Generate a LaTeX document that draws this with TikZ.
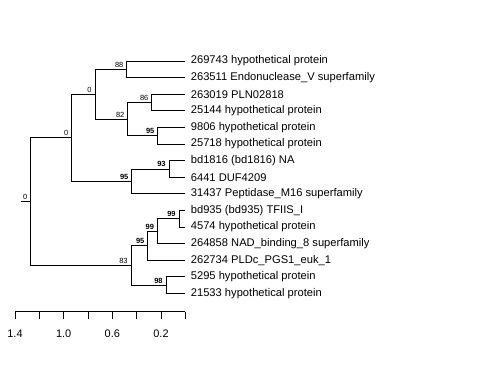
\documentclass[tikz,border=0pt]{standalone}
\usepackage{fontspec}
\setmainfont{Liberation Sans}
\usetikzlibrary{positioning}

\begin{document}
\begin{tikzpicture}[x=1bp,y=-1bp,line width=0.75bp,
                    leaf node/.style={anchor=west,inner xsep=5.5bp,inner ysep=0pt,font=\fontsize{11.2}{13}\selectfont},
                    boot/.style={anchor=south east,inner sep=0pt,xshift=-3bp,yshift=1.5bp,font=\fontsize{7.5}{9}\selectfont},
                    strong boot/.style={boot,font=\fontsize{7.5}{9}\selectfont\bfseries},
                    elbow/.style={to path={|- (\tikztotarget)}}]
  \useasboundingbox (0,0) rectangle (480,384);

  % leaves
  \node[leaf node] (l1)  at (185,61.0)  {269743 hypothetical protein};
  \node[leaf node] (l2)  at (185,77.6)  {263511 Endonuclease\_V superfamily};
  \node[leaf node] (l3)  at (185,94.2)  {263019 PLN02818};
  \node[leaf node] (l4)  at (185,110.8) {25144 hypothetical protein};
  \node[leaf node] (l5)  at (185,127.4) {9806 hypothetical protein};
  \node[leaf node] (l6)  at (185,144.0) {25718 hypothetical protein};
  \node[leaf node] (l7)  at (185,160.6) {bd1816 (bd1816) NA};
  \node[leaf node] (l8)  at (185,177.2) {6441 DUF4209};
  \node[leaf node] (l9)  at (185,193.8) {31437 Peptidase\_M16 superfamily};
  \node[leaf node] (l10) at (185,210.4) {bd935 (bd935) TFIIS\_I};
  \node[leaf node] (l11) at (185,227.0) {4574 hypothetical protein};
  \node[leaf node] (l12) at (185,243.6) {264858 NAD\_binding\_8 superfamily};
  \node[leaf node] (l13) at (185,260.2) {262734 PLDc\_PGS1\_euk\_1};
  \node[leaf node] (l14) at (185,276.8) {5295 hypothetical protein};
  \node[leaf node] (l15) at (185,293.4) {21533 hypothetical protein};

  % inner nodes
  \coordinate (r0)  at (20.7,201.6);
  \coordinate (r)   at (30.7,201.6);
  \coordinate (a)   at (71.7,137.8);
  \coordinate (b)   at (95.0,94.2);
  \coordinate (c88) at (126.7,69.3);
  \coordinate (c82) at (127.7,119.1);
  \coordinate (c86) at (151.7,102.5);
  \coordinate (c95) at (157.7,135.7);
  \coordinate (d95) at (131.7,181.35);
  \coordinate (d93) at (169.0,168.9);
  \coordinate (e83) at (131.0,265.4);
  \coordinate (e95) at (147.7,245.7);
  \coordinate (f99) at (157.3,231.15);
  \coordinate (g99) at (179.0,218.7);
  \coordinate (e98) at (166.0,285.1);

  \draw (r0) -- (r);
  \path[draw]
    (r)   edge [elbow] (a)
          edge [elbow] (e83)
    (a)   edge [elbow] (b)
          edge [elbow] (d95)
    (b)   edge [elbow] (c88)
          edge [elbow] (c82)
    (c88) edge [elbow] (l1)
          edge [elbow] (l2)
    (c82) edge [elbow] (c86)
          edge [elbow] (c95)
    (c86) edge [elbow] (l3)
          edge [elbow] (l4)
    (c95) edge [elbow] (l5)
          edge [elbow] (l6)
    (d95) edge [elbow] (d93)
          edge [elbow] (l9)
    (d93) edge [elbow] (l7)
          edge [elbow] (l8)
    (e83) edge [elbow] (e95)
          edge [elbow] (e98)
    (e95) edge [elbow] (f99)
          edge [elbow] (l13)
    (f99) edge [elbow] (g99)
          edge [elbow] (l12)
    (g99) edge [elbow] (l10)
          edge [elbow] (l11)
    (e98) edge [elbow] (l14)
          edge [elbow] (l15);

  % support values
  \node[boot] (br)   at (r)   {0};
  \node[boot] (ba)   at (a)   {0};
  \node[boot] (bb)   at (b)   {0};
  \node[boot] (bc88) at (c88) {88};
  \node[boot] (bc82) at (c82) {82};
  \node[boot] (bc86) at (c86) {86};
  \node[strong boot] (bc95) at (c95) {95};
  \node[strong boot] (bd95) at (d95) {95};
  \node[strong boot] (bd93) at (d93) {93};
  \node[boot] (be83) at (e83) {83};
  \node[strong boot] (be95) at (e95) {95};
  \node[strong boot] (bf99) at (f99) {99};
  \node[strong boot] (bg99) at (g99) {99};
  \node[strong boot] (be98) at (e98) {98};

  % scale
  \draw (15,311.7) -- (185.3,311.7);
  \foreach \k in {0,...,7}
    \draw ({15+\k*24.33},311.7) -- ++(0,7.3);
  \foreach \k/\v in {0/1.4,2/1.0,4/0.6,6/0.2}
    \node[font=\fontsize{11}{13}\selectfont] (s\k) at ({15+\k*24.33},334) {\v};
\end{tikzpicture}
\end{document}
